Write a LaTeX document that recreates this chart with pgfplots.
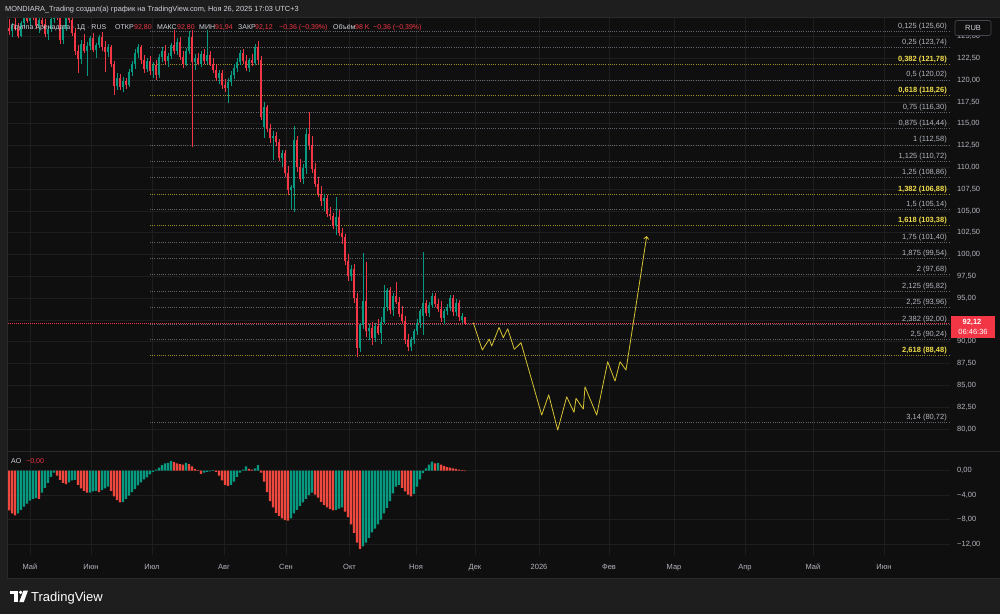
\documentclass[border=0pt]{standalone}
\usepackage{pgfplots}
\usepackage{pgfplotstable}
\pgfplotsset{compat=1.18}
\usepackage{fontspec}
\setmainfont{Liberation Sans}
\usetikzlibrary{arrows.meta}

\definecolor{bgout}{HTML}{1E1E1E}
\definecolor{pane}{HTML}{0F0F0F}
\definecolor{gridc}{HTML}{1E1E1E}
\definecolor{upc}{HTML}{089981}
\definecolor{dnc}{HTML}{F23645}
\definecolor{aor}{HTML}{F0483E}
\definecolor{txt}{HTML}{D1D4DC}
\definecolor{axt}{HTML}{B2B5BE}
\definecolor{fibg}{HTML}{62656F}
\definecolor{fiby}{HTML}{9A8C26}
\definecolor{fibyt}{HTML}{F2DE4A}
\definecolor{fc}{HTML}{D6C433}
\definecolor{sep}{HTML}{2A2A2A}

\newcommand\fs{\fontsize{7.5}{9}\selectfont}
\newcommand\fh{\fontsize{7}{8}\selectfont}

\tikzset{
  lg/.style={anchor=base east, inner sep=0pt, text=axt, font=\fs, yshift=3pt},
  ly/.style={anchor=base east, inner sep=0pt, text=fibyt, font=\fs\bfseries, yshift=3pt},
  hd/.style={anchor=base west, inner sep=0pt, text=txt, font=\fh},
  hr/.style={anchor=base west, inner sep=0pt, text=dnc, font=\fh},
}

\pgfplotsset{
  tv/.style={
    scale only axis, width=942pt, xmin=8, xmax=950,
    axis line style={draw=none}, major tick length=0pt,
    grid=major, major grid style={draw=gridc, line width=0.6pt},
    xtick={30,91,152,224,286,349.5,416,475,539,609,674,745,813,884},
    yticklabel pos=right,
    yticklabel style={anchor=west, inner sep=0pt, xshift=7pt, text=axt, font=\fs},
    axis background/.style={fill=pane},
  },
  fg/.style={fibg, line width=0.6pt, dash pattern=on 0.8pt off 1.4pt},
  fy/.style={fiby, line width=0.7pt, dash pattern=on 0.8pt off 1.4pt},
  wick/.style={draw=#1, line width=0.9pt, mark=none, line cap=butt,
    quiver={u=0, v=\thisrow{h}-\thisrow{l}}},
  body/.style={draw=#1, line width=2.4pt, mark=none, line cap=butt,
    quiver={u=0, v={max(abs(\thisrow{c}-\thisrow{o}),0.1)}}},
}

% up candles
\pgfplotstableread{
x o h l c
12 125.6 126.6 124.9 126.3
21 125.1 126.8 124.9 126.5
24 126.5 128.0 126.0 127.4
30 126.8 128.2 126.2 127.8
39 126.2 127.2 125.4 126.9
48 125.3 126.2 124.6 125.9
51 125.9 127.3 125.5 127.0
54 127.0 128.3 126.5 127.9
63 124.6 126.3 124.1 125.9
66 125.9 127.6 125.6 127.2
81 122.4 124.6 121.9 124.2
87 123.4 124.4 120.5 123.9
90 123.9 125.1 123.5 124.8
96 123.5 124.3 122.6 124.0
99 124.0 125.2 123.7 124.9
108 123.2 124.2 122.7 123.8
117 119.3 120.8 118.9 120.3
123 119.2 120.4 118.6 119.9
129 119.5 121.3 119.2 120.9
132 120.9 122.2 120.5 121.8
135 121.8 123.6 121.3 123.1
138 123.1 124.2 122.5 123.8
147 121.3 122.6 120.9 122.2
153 121.0 122.1 120.2 121.7
159 120.6 123.0 120.3 122.7
162 122.7 123.8 122.1 123.4
168 122.2 123.1 121.5 122.8
171 122.8 124.3 122.4 124.0
177 123.4 124.8 122.9 124.4
186 121.9 123.7 121.6 123.3
189 123.3 125.6 123.0 125.0
195 122.1 123.0 121.2 122.6
201 121.9 123.3 121.5 123.0
207 122.2 125.7 121.8 122.9
219 120.3 121.2 119.6 120.8
228 119.1 120.2 117.4 119.8
231 119.8 121.0 119.3 120.6
234 120.6 121.8 120.1 121.4
237 121.4 122.6 120.9 122.1
240 122.1 123.5 121.7 123.1
249 121.4 122.6 120.9 122.3
255 122.0 124.2 121.7 123.8
264 114.6 117.5 113.4 116.9
273 113.4 114.2 110.8 113.6
282 111.1 112.0 110.0 111.6
291 107.4 108.0 105.2 107.8
294 107.6 114.8 104.9 113.1
303 108.7 110.4 108.1 109.9
306 109.9 114.5 109.2 113.8
324 106.1 107.0 105.0 106.5
336 103.3 106.6 102.2 104.3
351 97.5 98.8 97.0 98.4
360 89.3 92.2 88.8 91.9
363 91.9 100.2 91.5 94.7
369 91.2 92.0 90.2 91.6
375 90.4 92.2 90.0 91.8
381 91.0 92.8 89.8 92.3
384 92.3 96.5 92.0 94.0
387 94.0 96.2 93.5 95.9
393 93.6 95.6 93.0 95.3
411 89.4 90.6 88.9 90.2
414 90.2 91.5 89.8 91.2
417 91.2 92.6 90.8 92.2
420 92.2 93.8 91.6 93.5
423 93.0 100.3 90.8 94.4
429 93.3 94.6 92.8 94.2
432 94.2 95.6 93.9 95.2
444 92.7 93.8 92.0 93.5
447 93.5 94.3 93.1 94.0
450 94.0 95.4 93.5 95.0
456 93.4 94.9 92.9 94.5
462 92.5 93.3 92.2 92.9
}\upcandles

% down candles
\pgfplotstableread{
x o h l c
9 126.0 127.0 125.2 125.6
15 126.3 127.5 125.8 125.9
18 125.9 126.5 124.8 125.1
27 127.4 128.5 126.5 126.8
33 127.8 128.6 126.9 127.1
36 127.1 127.9 125.9 126.2
42 126.9 127.8 126.1 126.4
45 126.4 127.0 124.9 125.3
57 127.9 128.5 126.9 127.2
60 127.2 127.6 124.2 124.6
69 127.2 128.4 126.6 126.9
72 126.9 127.5 125.1 125.4
75 125.4 126.0 122.9 123.3
78 123.3 124.0 120.8 122.4
84 124.2 125.3 123.1 123.4
93 124.8 125.4 123.2 123.5
102 124.9 125.5 123.4 123.8
105 123.8 124.5 120.9 123.2
111 123.8 124.0 121.5 121.8
114 121.8 122.2 118.3 119.3
120 120.3 120.7 118.9 119.2
126 119.9 120.3 119.0 119.5
141 123.8 124.0 121.9 122.3
144 122.3 122.9 120.8 121.3
150 122.2 122.8 120.6 121.0
156 121.7 122.3 120.0 120.6
165 123.4 124.0 121.8 122.2
174 124.0 125.7 123.0 123.4
180 124.4 124.9 122.3 122.7
183 122.7 123.4 121.4 121.9
192 125.0 125.8 112.3 122.1
198 122.6 123.1 121.7 121.9
204 123.0 123.6 121.8 122.2
210 122.9 123.4 121.6 121.9
213 121.9 122.6 120.8 121.2
216 121.2 121.8 119.9 120.3
222 120.8 121.2 119.0 119.4
225 119.4 120.1 118.6 119.1
243 123.1 123.6 121.8 122.2
246 122.2 122.9 121.0 121.4
252 122.3 123.0 121.6 122.0
258 123.8 124.5 121.9 122.3
261 122.3 122.8 115.4 115.8
267 116.9 117.2 114.0 114.4
270 114.4 115.0 112.8 113.4
276 113.6 114.0 112.5 112.9
279 112.9 113.3 110.7 111.1
285 111.6 112.0 108.9 109.3
288 109.3 110.2 106.8 107.4
297 113.1 113.6 109.5 110.0
300 110.0 111.0 108.3 108.7
309 113.8 116.3 112.0 112.6
312 112.6 113.6 109.4 109.8
315 109.8 110.5 107.7 108.1
318 108.1 108.9 106.6 107.0
321 107.0 107.9 105.6 106.1
327 106.5 106.8 104.3 104.7
330 104.7 105.4 104.0 104.4
333 104.4 104.8 102.9 103.3
339 104.3 105.1 102.1 102.5
342 102.5 103.0 101.2 102.0
345 102.0 102.4 98.8 99.3
348 99.3 100.1 97.0 97.5
354 98.4 98.9 94.5 95.0
357 95.0 95.6 88.2 89.3
366 94.7 99.1 90.5 91.2
372 91.6 92.3 89.6 90.4
378 91.8 92.6 90.8 91.0
390 95.9 96.3 93.2 93.6
396 95.3 96.8 94.3 94.6
399 94.6 95.1 92.8 93.2
402 93.2 94.1 92.0 92.4
405 92.4 92.9 89.8 90.2
408 90.2 90.9 88.9 89.4
426 94.4 94.8 93.0 93.3
435 95.2 95.6 94.0 94.3
438 94.3 94.9 93.4 93.8
441 93.8 94.7 92.3 92.7
453 95.0 95.4 93.0 93.4
459 94.5 94.8 92.4 92.8
465 92.80 92.80 91.94 92.12
}\dncandles

% AO rising bars
\pgfplotstableread{
x v
18 -7.0
21 -6.4
24 -5.9
27 -5.4
30 -4.9
33 -4.6
36 -4.5
42 -3.6
45 -2.8
48 -2.0
51 -1.0
54 -0.3
69 -1.9
72 -1.6
75 -1.5
90 -3.6
93 -3.4
96 -3.3
102 -3.2
105 -2.9
108 -2.6
123 -5.1
126 -4.6
129 -4.1
132 -3.5
135 -3.0
138 -2.4
141 -1.9
144 -1.4
147 -1.1
150 -0.6
153 -0.2
156 0.2
159 0.5
162 0.9
165 1.2
168 1.3
171 1.6
186 1.3
204 -0.3
207 -0.2
210 -0.1
213 0.1
231 -2.3
234 -1.8
237 -1.0
240 -0.3
243 0.2
246 0.7
255 0.4
258 0.9
291 -7.8
294 -7.0
297 -6.4
300 -5.8
303 -5.2
306 -4.6
309 -4.0
312 -3.6
336 -6.4
339 -6.2
342 -6.0
363 -12.4
366 -11.8
369 -11.0
372 -10.1
375 -9.5
378 -8.8
381 -8.0
384 -7.0
387 -6.1
390 -5.0
393 -3.7
396 -2.6
399 -2.3
414 -3.8
417 -2.6
420 -1.4
423 -0.4
426 0.4
429 1.0
432 1.5
438 1.3
}\aoup

% AO falling bars
\pgfplotstableread{
x v
9 -6.5
12 -7.0
15 -7.3
39 -4.6
57 -0.8
60 -1.5
63 -2.0
66 -2.2
78 -2.3
81 -2.9
84 -3.3
87 -3.6
99 -3.5
111 -3.3
114 -4.2
117 -4.8
120 -5.2
174 1.4
177 1.2
180 1.1
183 1.0
189 1.1
192 0.7
195 0.3
198 0.1
201 -0.5
216 -0.2
219 -0.8
222 -1.6
225 -2.3
228 -2.5
249 0.3
252 0.2
261 -0.3
264 -1.8
267 -3.5
270 -5.0
273 -6.0
276 -6.9
279 -7.4
282 -7.8
285 -8.1
288 -8.2
315 -3.9
318 -4.4
321 -5.1
324 -5.6
327 -6.0
330 -6.3
333 -6.5
345 -6.7
348 -7.6
351 -8.8
354 -10.2
357 -11.8
360 -12.8
402 -2.8
405 -3.4
408 -3.9
411 -4.2
435 1.2
441 1.0
444 0.8
447 0.6
450 0.5
453 0.4
456 0.3
459 0.2
462 0.1
465 -0.05
}\aodn

\begin{document}
\begin{tikzpicture}
\useasboundingbox (0,0) rectangle (1000pt,-614pt);
\fill[bgout] (0,0) rectangle (1000pt,-614pt);
\fill[pane] (7pt,-17pt) rectangle (1000pt,-578pt);

% ---------- price pane ----------
\begin{axis}[tv, at={(8pt,-18pt)}, anchor=north west, height=433pt,
  ymin=77.47, ymax=127.13,
  ytick={80,82.5,85,87.5,90,92.5,95,97.5,100,102.5,105,107.5,110,112.5,115,117.5,120,122.5,125},
  yticklabels={{80,00},{82,50},{85,00},{87,50},{90,00},{92,50},{95,00},{97,50},{100,00},{102,50},{105,00},{107,50},{110,00},{112,50},{115,00},{117,50},{120,00},{122,50},{125,00}},
  xticklabels={},
]
% fib lines
\addplot[fg] coordinates {(150,125.60) (950,125.60)};
\addplot[fg] coordinates {(150,123.74) (950,123.74)};
\addplot[fy] coordinates {(150,121.78) (950,121.78)};
\addplot[fg] coordinates {(150,120.02) (950,120.02)};
\addplot[fy] coordinates {(150,118.26) (950,118.26)};
\addplot[fg] coordinates {(150,116.30) (950,116.30)};
\addplot[fg] coordinates {(150,114.44) (950,114.44)};
\addplot[fg] coordinates {(150,112.58) (950,112.58)};
\addplot[fg] coordinates {(150,110.72) (950,110.72)};
\addplot[fg] coordinates {(150,108.86) (950,108.86)};
\addplot[fy] coordinates {(150,106.88) (950,106.88)};
\addplot[fg] coordinates {(150,105.14) (950,105.14)};
\addplot[fy] coordinates {(150,103.38) (950,103.38)};
\addplot[fg] coordinates {(150,101.40) (950,101.40)};
\addplot[fg] coordinates {(150,99.54) (950,99.54)};
\addplot[fg] coordinates {(150,97.68) (950,97.68)};
\addplot[fg] coordinates {(150,95.82) (950,95.82)};
\addplot[fg] coordinates {(150,93.96) (950,93.96)};
\addplot[fg] coordinates {(150,92.00) (950,92.00)};
\addplot[fg] coordinates {(150,90.24) (950,90.24)};
\addplot[fy] coordinates {(150,88.48) (950,88.48)};
\addplot[fg] coordinates {(150,80.72) (950,80.72)};
% current price line
\addplot[dnc, line width=0.6pt, dash pattern=on 1pt off 1pt] coordinates {(8,92.12) (950,92.12)};
% candles: wicks (low to high)
\addplot[wick=upc] table[x=x, y=l] {\upcandles};
\addplot[wick=dnc] table[x=x, y=l] {\dncandles};
% candles: bodies (min(open,close) upward)
\addplot[body=upc] table[x=x, y=o] {\upcandles};
\addplot[body=dnc] table[x=x, y=c] {\dncandles};
% forecast path
\addplot[fc, line width=0.8pt, line join=round, -{Straight Barb[length=2.5pt,width=5pt]}] coordinates {
 (473.3,92.18) (482.3,89.05) (489.3,90.31) (491.7,89.51) (499,91.65) (503.3,90.46)
 (507.7,91.49) (514.3,89.13) (521,89.89) (541.7,81.59) (548.7,83.92) (557.7,79.87)
 (566.7,83.69) (574,81.90) (576,83.51) (583.3,82.28) (585,84.84) (596.7,81.59)
 (607.7,87.71) (615,85.49) (620,87.71) (626,86.75) (646.7,102.12)};
% fib labels
\node[lg] at (axis cs:947,125.60) {0,125 (125,60)};
\node[lg] at (axis cs:947,123.74) {0,25 (123,74)};
\node[ly] at (axis cs:947,121.78) {0,382 (121,78)};
\node[lg] at (axis cs:947,120.02) {0,5 (120,02)};
\node[ly] at (axis cs:947,118.26) {0,618 (118,26)};
\node[lg] at (axis cs:947,116.30) {0,75 (116,30)};
\node[lg] at (axis cs:947,114.44) {0,875 (114,44)};
\node[lg] at (axis cs:947,112.58) {1 (112,58)};
\node[lg] at (axis cs:947,110.72) {1,125 (110,72)};
\node[lg] at (axis cs:947,108.86) {1,25 (108,86)};
\node[ly] at (axis cs:947,106.88) {1,382 (106,88)};
\node[lg] at (axis cs:947,105.14) {1,5 (105,14)};
\node[ly] at (axis cs:947,103.38) {1,618 (103,38)};
\node[lg] at (axis cs:947,101.40) {1,75 (101,40)};
\node[lg] at (axis cs:947,99.54) {1,875 (99,54)};
\node[lg] at (axis cs:947,97.68) {2 (97,68)};
\node[lg] at (axis cs:947,95.82) {2,125 (95,82)};
\node[lg] at (axis cs:947,93.96) {2,25 (93,96)};
\node[lg] at (axis cs:947,92.00) {2,382 (92,00)};
\node[lg] at (axis cs:947,90.24) {2,5 (90,24)};
\node[ly] at (axis cs:947,88.48) {2,618 (88,48)};
\node[lg] at (axis cs:947,80.72) {3,14 (80,72)};
\end{axis}

% ---------- AO pane ----------
\begin{axis}[tv, at={(8pt,-452pt)}, anchor=north west, height=103pt,
  ymin=-13.82, ymax=3.07, ytick={-12,-8,-4,0},
  yticklabels={{−12,00},{−8,00},{−4,00},{0,00}},
  xticklabels={Май,Июн,Июл,Авг,Сен,Окт,Ноя,Дек,2026,Фев,Мар,Апр,Май,Июн},
  xticklabel style={anchor=base, yshift=-14pt, text=axt, font=\fs, inner sep=0pt},
]
\addplot[ybar, bar width=2.1, bar shift=0pt, fill=upc, draw=none] table[x=x,y=v] {\aoup};
\addplot[ybar, bar width=2.1, bar shift=0pt, fill=aor, draw=none] table[x=x,y=v] {\aodn};
\end{axis}

\begin{scope}[x=1pt,y=-1pt]
% separators
\draw[sep, line width=0.8pt] (7,451.5) -- (1000,451.5);
\draw[sep, line width=0.8pt] (7,17) rectangle (1000,578);
% RUB box
\filldraw[fill=pane, draw={rgb,255:red,70;green,72;blue,80}, rounded corners=2pt, line width=0.6pt] (955,20.5) rectangle (991,35.5);
\node[text=txt, font=\fs, inner sep=0pt] at (973,28) {RUB};
% price box
\fill[dnc] (951,315.5) rectangle (995,338);
\node[text=white, font=\fs\bfseries, inner sep=0pt] at (972,322.5) {92,12};
\node[text=white, font=\fs, inner sep=0pt] at (973,332) {06:46:36};
% header
\node[anchor=base west, inner sep=0pt, text=txt, font=\fontsize{7.4}{8}\selectfont] at (5,11) {MONDIARA\_Trading создал(а) график на TradingView.com, Ноя 26, 2025 17:03 UTC+3};
\node[hd] at (11,29) {Группа Аренадата · 1Д · RUS};
\node[hd] at (115,29) {ОТКР};
\node[hr] at (134,29) {92,80};
\node[hd] at (157,29) {МАКС};
\node[hr] at (177,29) {92,80};
\node[hd] at (199,29) {МИН};
\node[hr] at (215,29) {91,94};
\node[hd] at (238,29) {ЗАКР};
\node[hr] at (255,29) {92,12};
\node[hr] at (279,29) {−0,36 (−0,39\%)};
\node[hd] at (333,29) {Объём};
\node[hr] at (355,29) {98 K};
\node[hr] at (373,29) {−0,36 (−0,39\%)};
% AO label
\node[hd] at (11,463) {AO};
\node[hr] at (26,463) {−0,00};
% footer logo
\fill[white] (10,590.5) rectangle (17.5,594);
\fill[white] (14,590.5) rectangle (17.5,602);
\fill[white] (20.6,592.4) circle (1.9);
\fill[white] (23.5,590.5) -- (28,590.5) -- (23.8,602) -- (19.3,602) -- cycle;
\node[anchor=base west, inner sep=0pt, text=white, font=\fontsize{13}{14}\selectfont] at (31,601.5) {TradingView};
\end{scope}
\end{tikzpicture}
\end{document}
